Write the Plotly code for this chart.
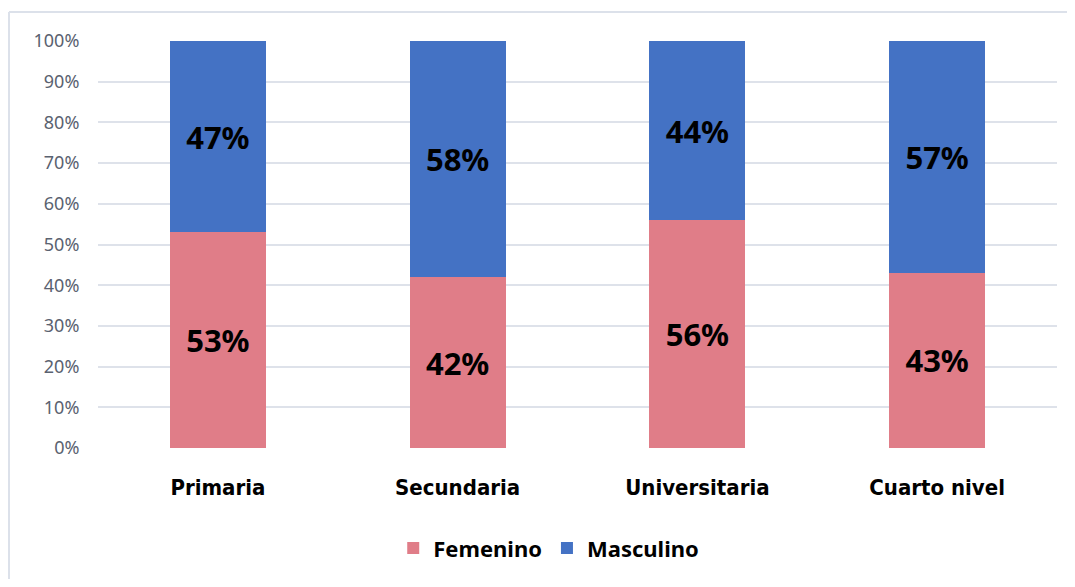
import plotly.graph_objects as go

categories = ["Primaria", "Secundaria", "Universitaria", "Cuarto nivel"]
femenino = [53, 42, 56, 43]
masculino = [47, 58, 44, 57]
y_ticks = list(range(0, 101, 10))
y_tick_labels = [f"{v}%" for v in y_ticks]

PINK = "#E07D88"
BLUE = "#4472C4"

fig = go.Figure()
for name, vals, color in [("Femenino", femenino, PINK), ("Masculino", masculino, BLUE)]:
    fig.add_trace(go.Bar(
        x=categories, y=vals, name=name,
        marker=dict(color=color, line=dict(width=0)),
        text=[f"{v}%" for v in vals],
        textposition="inside", insidetextanchor="middle", textangle=0,
        constraintext="none",
        textfont=dict(family="Noto Sans", size=31, color="black", weight="bold"),
    ))

border_left = -89 / 959
border_top = (440 - 4) / 407
border_style = dict(color="#DCE1EA", width=2)

# the page body adds 8px margins; figure sized so the page does not overflow
fig.update_layout(
    barmode="stack",
    bargap=0.6,
    width=1059, height=571,
    margin=dict(l=90, r=10, t=33, b=131),
    paper_bgcolor="white", plot_bgcolor="white",
    showlegend=True,
    legend=dict(orientation="h", x=0.47, xanchor="center", y=-0.246, yanchor="middle",
                font=dict(family="Noto Sans", size=22, color="black", weight="bold"),
                itemwidth=30, traceorder="normal"),
    xaxis=dict(
        showgrid=False, zeroline=False, showline=False,
        ticks="outside", ticklen=20, tickcolor="rgba(0,0,0,0)",
        tickfont=dict(family="DejaVu Sans Condensed", size=22, color="black", weight="bold"),
    ),
    yaxis=dict(
        range=[0, 100], tickvals=y_ticks, ticktext=y_tick_labels,
        showgrid=True, gridcolor="#DEE2EA", gridwidth=2,
        zeroline=False, showline=False,
        ticks="outside", ticklen=14, tickcolor="rgba(0,0,0,0)",
        tickfont=dict(family="Noto Sans", size=18, color="#5A6270"),
    ),
    shapes=[
        dict(type="line", xref="paper", yref="paper",
             x0=border_left, x1=border_left, y0=-0.6, y1=border_top,
             line=border_style, layer="below"),
        dict(type="line", xref="paper", yref="paper",
             x0=border_left, x1=1.3, y0=border_top, y1=border_top,
             line=border_style, layer="below"),
    ],
)

fig.write_html("out.html")
